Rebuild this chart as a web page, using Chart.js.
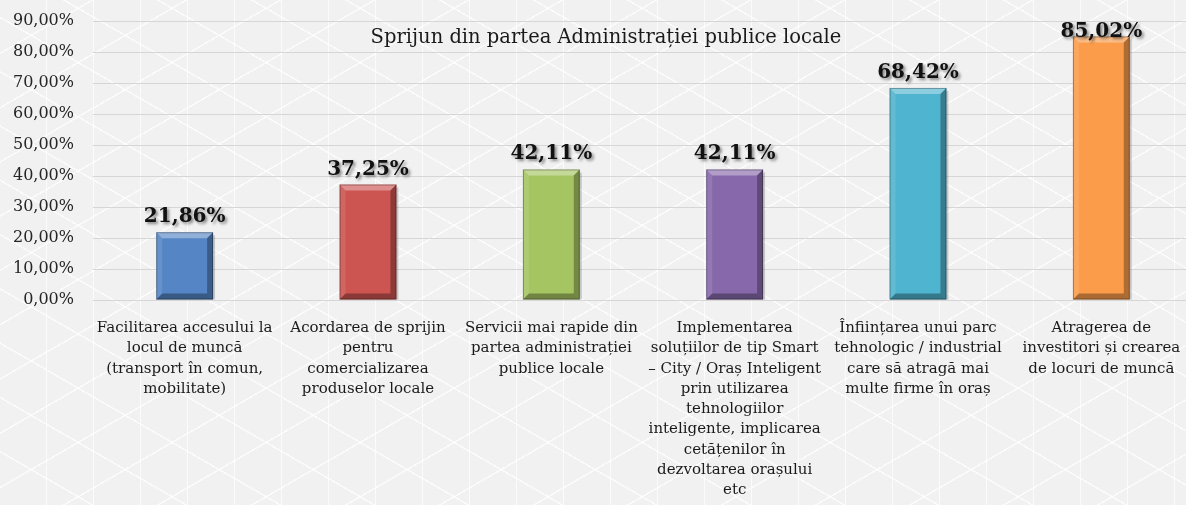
<!DOCTYPE html>
<html>
<head>
<meta charset="utf-8">
<script src="https://cdn.jsdelivr.net/npm/chart.js@4/dist/chart.umd.min.js"></script>
<style>
  html, body { margin: 0; padding: 0; overflow: hidden; }
  body {
    width: 1186px; height: 505px;
    background-color: #f1f1f1;
    background-image:
      repeating-linear-gradient(90deg, rgba(255,255,255,0) 0px, rgba(255,255,255,0) 45.5px, rgba(255,255,255,0.75) 45.5px, rgba(255,255,255,0.75) 47px),
      repeating-linear-gradient(30deg, rgba(255,255,255,0) 0px, rgba(255,255,255,0) 45.5px, rgba(255,255,255,0.75) 45.5px, rgba(255,255,255,0.75) 47px),
      repeating-linear-gradient(150deg, rgba(255,255,255,0) 0px, rgba(255,255,255,0) 45.5px, rgba(255,255,255,0.75) 45.5px, rgba(255,255,255,0.75) 47px);
  }
  #wrap { position: relative; width: 1193px; height: 505px; }
</style>
</head>
<body>
<div id="wrap"><canvas id="chart"></canvas></div>
<script>
// Survey answers: support expected from the local public administration
const categories = [
  ["Facilitarea accesului la", "locul de muncă", "(transport în comun,", "mobilitate)"],
  ["Acordarea de sprijin", "pentru", "comercializarea", "produselor locale"],
  ["Servicii mai rapide din", "partea administrației", "publice locale"],
  ["Implementarea", "soluțiilor de tip Smart", "– City / Oraș Inteligent", "prin utilizarea", "tehnologiilor", "inteligente, implicarea", "cetățenilor în", "dezvoltarea orașului", "etc"],
  ["Înființarea unui parc", "tehnologic / industrial", "care să atragă mai", "multe firme în oraș"],
  ["Atragerea de", "investitori și crearea", "de locuri de muncă"]
];
const values = [21.86, 37.25, 42.11, 42.11, 68.42, 85.02];
const barColors = ["#5585c5", "#cc5451", "#a5c562", "#8769ab", "#4fb4cf", "#fb9c4b"];
const yTicks = [0, 10, 20, 30, 40, 50, 60, 70, 80, 90];
const chartTitle = "Sprijun din partea Administrației publice locale";

const SERIF = "'DejaVu Serif', 'Liberation Serif', serif";
const fmt = v => v.toFixed(2).replace('.', ',') + '%';

// Bevelled look on each bar: light top/left edges, dark right/bottom edges
const bevelPlugin = {
  id: 'bevel',
  afterDatasetsDraw(chart) {
    const ctx = chart.ctx;
    chart.getDatasetMeta(0).data.forEach(bar => {
      const l = bar.x - bar.width / 2, r = bar.x + bar.width / 2;
      const t = bar.y, b = bar.base, s = 6;
      ctx.save();
      // drop shadow on the right
      ctx.fillStyle = 'rgba(0,0,0,0.18)';
      ctx.fillRect(r, t + 3, 2, b - t - 3);
      const poly = (pts, color) => {
        ctx.beginPath();
        ctx.moveTo(pts[0][0], pts[0][1]);
        for (let i = 1; i < pts.length; i++) ctx.lineTo(pts[i][0], pts[i][1]);
        ctx.closePath();
        ctx.fillStyle = color;
        ctx.fill();
      };
      poly([[l, t], [r, t], [r - s, t + s], [l + s, t + s]], 'rgba(255,255,255,0.35)');
      poly([[l, t], [l + s, t + s], [l + s, b - s], [l, b]], 'rgba(255,255,255,0.10)');
      poly([[r, t], [r, b], [r - s, b - s], [r - s, t + s]], 'rgba(0,0,0,0.30)');
      poly([[l, b], [r, b], [r - s, b - s], [l + s, b - s]], 'rgba(0,0,0,0.32)');
      ctx.strokeStyle = 'rgba(0,0,0,0.3)';
      ctx.lineWidth = 1;
      ctx.strokeRect(l + 0.5, t + 0.5, bar.width - 1, b - t - 1);
      ctx.restore();
    });
  }
};

// Value labels above bars, bold with a soft shadow; kept inside the plot area
const valueLabels = {
  id: 'valueLabels',
  afterDatasetsDraw(chart) {
    const ctx = chart.ctx;
    const ds = chart.data.datasets[0];
    const minBaseline = chart.chartArea.top + 16;
    chart.getDatasetMeta(0).data.forEach((bar, i) => {
      ctx.save();
      ctx.font = "bold 20px " + SERIF;
      ctx.textAlign = 'center';
      ctx.textBaseline = 'alphabetic';
      ctx.shadowColor = 'rgba(0,0,0,0.45)';
      ctx.shadowBlur = 3;
      ctx.shadowOffsetX = 2;
      ctx.shadowOffsetY = 2;
      ctx.fillStyle = '#111';
      ctx.fillText(fmt(ds.data[i]), bar.x, Math.max(bar.y - 10, minBaseline));
      ctx.restore();
    });
  }
};

// Title drawn inside the plot area, between the top gridlines
const innerTitle = {
  id: 'innerTitle',
  afterDraw(chart) {
    const ctx = chart.ctx;
    ctx.save();
    ctx.font = "19.5px " + SERIF;
    ctx.fillStyle = '#1a1a1a';
    ctx.textAlign = 'center';
    ctx.textBaseline = 'middle';
    const y = (chart.scales.y.getPixelForValue(90) + chart.scales.y.getPixelForValue(80)) / 2 + 1;
    ctx.fillText(chartTitle, 606, y);
    ctx.restore();
  }
};

new Chart(document.getElementById('chart'), {
  type: 'bar',
  data: {
    labels: categories,
    datasets: [{
      data: values,
      backgroundColor: barColors,
      borderWidth: 0,
      barPercentage: 0.62,
      categoryPercentage: 0.5
    }]
  },
  options: {
    responsive: true,
    maintainAspectRatio: false,
    animation: false,
    layout: { padding: { top: 21, right: 0, bottom: 0, left: 0 } },
    plugins: {
      legend: { display: false },
      tooltip: { enabled: false },
      title: { display: false }
    },
    scales: {
      y: {
        min: 0, max: 90,
        afterBuildTicks: s => { s.ticks = yTicks.map(v => ({ value: v })); },
        afterFit: s => { s.width = 93; s.paddingTop = 0; s.paddingBottom = 0; },
        border: { display: false },
        grid: { color: '#d6d6d6', lineWidth: 1, drawTicks: false },
        ticks: {
          padding: 19,
          color: '#262626',
          font: { family: SERIF, size: 16 },
          callback: v => fmt(v)
        }
      },
      x: {
        afterFit: s => { s.height = 205; },
        border: { display: false },
        grid: { display: false },
        ticks: {
          maxRotation: 0, autoSkip: false,
          padding: 10,
          color: '#1a1a1a',
          font: { family: SERIF, size: 15, lineHeight: 1.35 }
        }
      }
    }
  },
  plugins: [bevelPlugin, valueLabels, innerTitle]
});
</script>
</body>
</html>
